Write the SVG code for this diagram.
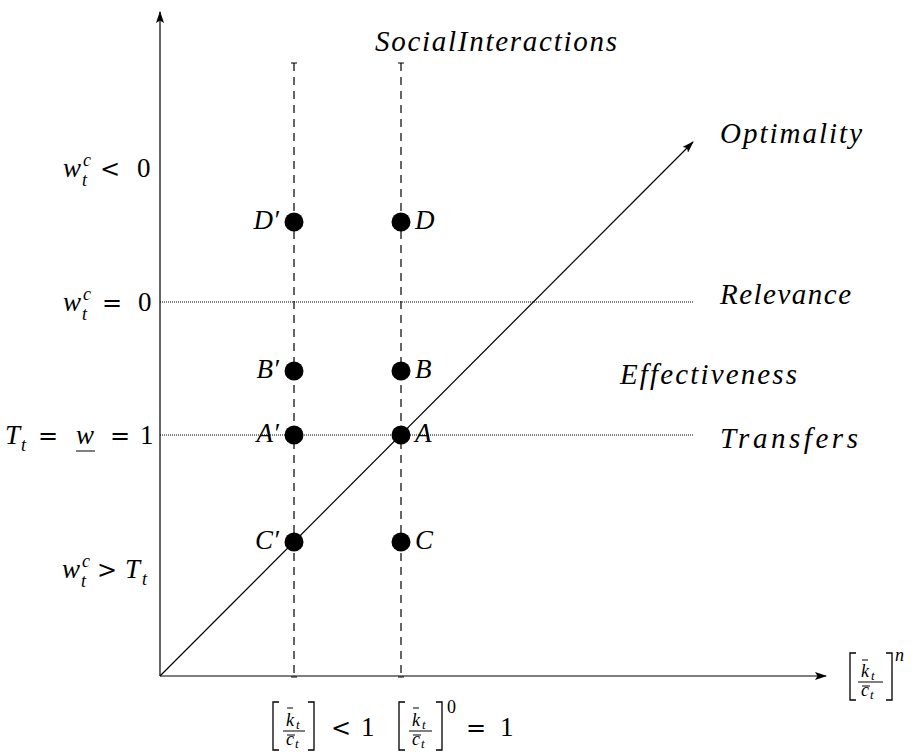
<svg xmlns="http://www.w3.org/2000/svg" width="916" height="752" viewBox="0 0 916 752">
<style>
.ax{stroke:#000;stroke-width:1.2;fill:none}
.dash{stroke:#000;stroke-width:1.2;stroke-dasharray:8 6;fill:none}
.dot{stroke:#000;stroke-width:1;stroke-dasharray:1 1;fill:none}
.tick{stroke:#000;stroke-width:1;fill:none}
.pt{fill:#000}
.br{stroke:#000;stroke-width:1.3;fill:none}
.bar{stroke:#000;stroke-width:1;fill:none}
text{fill:#000}
.m{font-style:italic;font-size:27px}
.w{font-style:italic;font-size:29px}
.r{font-size:27px}
.op{font-family:"DejaVu Serif",serif;font-size:24px}
.ms{font-style:italic;font-size:18px}
.rs{font-size:18px}
.pr{font-family:"DejaVu Sans",sans-serif;font-size:18px}
.t{font-style:italic;font-size:13px}
</style>
<defs>
<marker id="arr" viewBox="0 0 12 8" refX="11" refY="4" markerWidth="12" markerHeight="8" markerUnits="userSpaceOnUse" orient="auto">
<path d="M0,0 L12,4 L0,8 L2.5,4 Z" fill="#000"/>
</marker>
</defs>
<rect x="0" y="0" width="916" height="752" fill="#fff"/>

<g id="connectors">
<line class="ax" x1="160" y1="676" x2="160" y2="12" marker-end="url(#arr)"/>
<line class="ax" x1="160" y1="676" x2="826" y2="676" marker-end="url(#arr)"/>
<line class="ax" x1="160" y1="676" x2="693" y2="142" marker-end="url(#arr)"/>
<line class="dash" x1="294" y1="63" x2="294" y2="676"/>
<line class="dash" x1="401" y1="63" x2="401" y2="676"/>
<line class="tick" x1="291" y1="63" x2="297" y2="63"/>
<line class="tick" x1="398" y1="63" x2="404" y2="63"/>
<line class="tick" x1="291" y1="677" x2="297" y2="677"/>
<line class="tick" x1="398" y1="677" x2="404" y2="677"/>
<line class="dot" x1="160" y1="302" x2="693" y2="302"/>
<line class="dot" x1="160" y1="435" x2="693" y2="435"/>
</g>

<g font-family="'Liberation Serif', serif">
<g id="label-social"><text class="w" x="375" y="51" textLength="242" lengthAdjust="spacing">SocialInteractions</text></g>
<g id="label-optimality"><text class="w" x="720" y="143" textLength="142" lengthAdjust="spacing">Optimality</text></g>
<g id="label-relevance"><text class="w" x="720" y="304" textLength="131" lengthAdjust="spacing">Relevance</text></g>
<g id="label-effectiveness"><text class="w" x="620" y="384" textLength="177" lengthAdjust="spacing">Effectiveness</text></g>
<g id="label-transfers"><text class="w" x="720" y="448" textLength="138" lengthAdjust="spacing">Transfers</text></g>

<g id="node-Dp"><circle class="pt" cx="294" cy="222" r="9.5"/><text class="m" x="279" y="229" text-anchor="end">D′</text></g>
<g id="node-D"><circle class="pt" cx="401" cy="222" r="9.5"/><text class="m" x="415" y="229">D</text></g>
<g id="node-Bp"><circle class="pt" cx="294" cy="371" r="9.5"/><text class="m" x="279" y="378" text-anchor="end">B′</text></g>
<g id="node-B"><circle class="pt" cx="401" cy="371" r="9.5"/><text class="m" x="415" y="378">B</text></g>
<g id="node-Ap"><circle class="pt" cx="294" cy="435" r="9.5"/><text class="m" x="279" y="442" text-anchor="end">A′</text></g>
<g id="node-A"><circle class="pt" cx="401" cy="435" r="9.5"/><text class="m" x="415" y="442">A</text></g>
<g id="node-Cp"><circle class="pt" cx="294" cy="542" r="9.5"/><text class="m" x="279" y="549" text-anchor="end">C′</text></g>
<g id="node-C"><circle class="pt" cx="401" cy="542" r="9.5"/><text class="m" x="415" y="549">C</text></g>

<g id="ylabel-1">
<text class="m" x="63" y="177">w</text><text class="ms" x="83" y="166">c</text><text class="ms" x="82" y="186">t</text>
<text class="op" x="100" y="177">&lt;</text><text class="r" x="137" y="177">0</text>
</g>
<g id="ylabel-2">
<text class="m" x="63" y="311">w</text><text class="ms" x="83" y="300">c</text><text class="ms" x="82" y="320">t</text>
<text class="op" x="102" y="311">=</text><text class="r" x="138" y="311">0</text>
</g>
<g id="ylabel-3">
<text class="m" x="5" y="444">T</text><text class="ms" x="21" y="451">t</text>
<text class="op" x="38" y="444">=</text>
<text class="m" x="76" y="444">w</text><line class="bar" x1="76" y1="451" x2="95" y2="451"/>
<text class="op" x="110" y="444">=</text><text class="r" x="140" y="444">1</text>
</g>
<g id="ylabel-4">
<text class="m" x="62" y="578">w</text><text class="ms" x="82" y="567">c</text><text class="ms" x="81" y="587">t</text>
<text class="op" x="97" y="578">&gt;</text>
<text class="m" x="125" y="578">T</text><text class="ms" x="142" y="585">t</text>
</g>

<g id="xlabel-n">
<polyline class="br" points="856,653 850,653 850,700 856,700"/>
<polyline class="br" points="886,653 892,653 892,700 886,700"/>
<line class="bar" x1="862" y1="660" x2="868" y2="660"/>
<text class="ms" x="861" y="677">k</text><text class="t" x="871" y="680">t</text>
<line class="bar" x1="858" y1="682" x2="883" y2="682"/>
<line class="bar" x1="862" y1="686" x2="870" y2="686"/>
<text class="ms" x="861" y="696">c</text><text class="t" x="870" y="699">t</text>
<text class="ms" x="895" y="661">n</text>
</g>

<g id="xlabel-lt1">
<polyline class="br" points="279,702 273,702 273,750 279,750"/>
<polyline class="br" points="308,702 314,702 314,750 308,750"/>
<line class="bar" x1="287" y1="708" x2="293" y2="708"/>
<text class="ms" x="286" y="726">k</text><text class="t" x="296" y="729">t</text>
<line class="bar" x1="283" y1="731" x2="305" y2="731"/>
<line class="bar" x1="287" y1="735" x2="295" y2="735"/>
<text class="ms" x="286" y="745">c</text><text class="t" x="295" y="748">t</text>
<text class="op" x="331" y="736">&lt;</text><text class="r" x="361" y="736">1</text>
</g>

<g id="xlabel-eq1">
<polyline class="br" points="405,702 399,702 399,750 405,750"/>
<polyline class="br" points="436,702 442,702 442,750 436,750"/>
<line class="bar" x1="413" y1="708" x2="419" y2="708"/>
<text class="ms" x="412" y="726">k</text><text class="t" x="422" y="729">t</text>
<line class="bar" x1="409" y1="731" x2="432" y2="731"/>
<line class="bar" x1="413" y1="735" x2="421" y2="735"/>
<text class="ms" x="412" y="745">c</text><text class="t" x="421" y="748">t</text>
<text class="rs" x="447" y="713">0</text>
<text class="op" x="466" y="736">=</text><text class="r" x="500" y="736">1</text>
</g>
</g>
</svg>
